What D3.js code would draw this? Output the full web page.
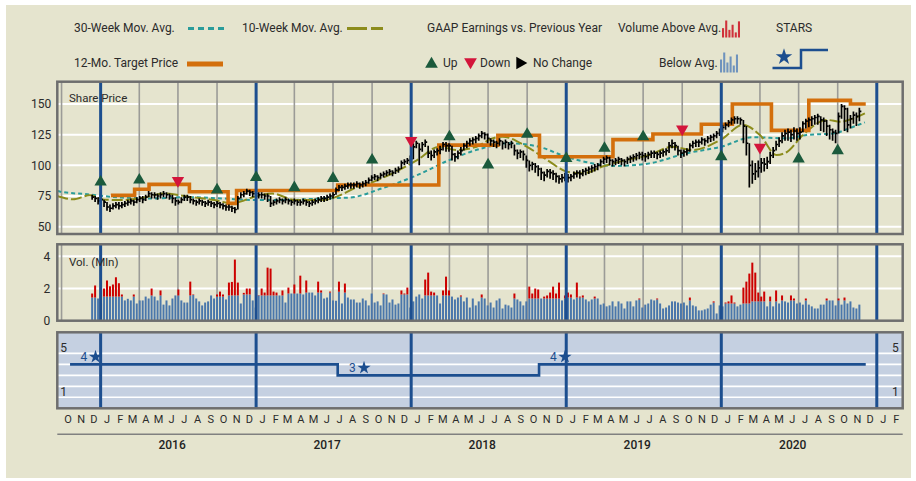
<!DOCTYPE html>
<html><head><meta charset="utf-8">
<script src="https://cdn.jsdelivr.net/npm/d3@7"></script>
<style>
body{margin:0;background:#fff;}
text{font-family:Roboto,"DejaVu Sans",sans-serif;}
</style></head>
<body><svg id="c" width="916" height="481"></svg>
<script>
// ---------------- DATA ----------------
const weekStart = "2015-12-12";
const priceClose = [
74,73,71,72,70,66,65,67,68,67,
68,69,70,71,70,72,73,72,74,77,
76,76,75,76,77,76,75,73,71,70,
72,74,74,72,71,70,71,70,69,70,
69,68,69,68,67,66,66,65,64,73,
76,77,79,78,77,77,76,76,75,75,
69,70,71,72,71,72,71,70,71,70,
70,71,70,69,70,71,72,73,73,74,
75,76,80,82,82,83,84,84,84,85,
84,85,86,88,90,91,90,92,93,94,
95,94,96,97,102,103,104,105,115,118,
113,117,119,110,108,111,112,113,117,116,
116,109,107,110,112,116,118,120,121,122,
124,126,125,122,120,119,118,120,118,119,
117,118,112,110,111,109,104,100,101,99,
97,94,92,95,94,93,91,89,90,91,
90,91,93,94,93,95,96,97,98,99,
100,103,105,106,104,103,104,105,104,103,
105,106,107,108,109,108,107,109,110,110,
109,110,111,112,116,118,116,112,110,111,
112,116,118,119,119,121,120,122,123,124,
126,128,131,133,135,137,138,138,137,132,
118,100,93,95,98,102,101,103,108,112,
117,120,124,126,127,125,128,126,127,134,
136,137,138,139,140,137,136,132,129,127,
126,140,148,146,133,138,141,140,144];
const priceHigh = [
76,75,74,74,72,70,68,69,70,70,
70,71,72,73,72,74,75,75,76,79,
78,78,77,78,79,78,77,76,74,72,
74,76,76,75,73,72,73,72,71,72,
71,70,71,70,69,68,68,67,66,75,
78,79,81,80,79,79,78,78,77,77,
75,72,73,74,73,74,73,72,73,72,
72,73,72,71,72,73,74,75,75,76,
77,78,82,84,84,85,86,86,86,87,
86,87,88,90,92,93,92,94,95,96,
97,96,98,99,104,105,106,108,118,120,
118,119,121,116,112,113,114,116,119,119,
118,116,110,112,115,118,120,122,123,124,
126,128,127,126,122,121,120,122,120,121,
119,120,117,113,113,112,108,104,103,102,
100,98,95,97,97,96,94,92,93,94,
93,93,95,96,96,97,98,99,100,101,
102,105,107,108,107,105,106,107,106,105,
107,108,109,110,111,111,110,111,112,112,
111,112,113,114,119,121,119,116,113,113,
114,118,120,121,121,123,122,124,125,126,
128,130,133,135,137,139,140,140,139,137,
132,118,104,102,104,106,106,107,111,115,
120,123,127,129,130,129,131,130,131,136,
138,139,140,141,142,140,139,137,133,130,
129,143,150,149,147,141,144,143,147];
const priceLow = [
72,70,68,69,66,63,62,64,65,64,
65,66,67,68,67,69,70,69,71,74,
73,73,72,73,74,73,72,69,67,68,
69,71,71,69,68,67,68,67,66,67,
66,65,66,65,64,63,63,62,61,64,
73,74,76,75,74,74,73,73,72,70,
66,67,68,69,68,69,68,67,68,67,
67,68,67,66,67,68,69,70,70,71,
72,73,76,79,79,80,81,81,81,82,
81,82,83,85,87,88,87,89,90,91,
92,91,93,94,97,100,101,102,105,114,
100,111,115,106,104,106,108,109,112,111,
111,104,103,105,108,112,114,116,117,118,
120,122,121,118,116,115,114,116,113,114,
113,114,108,105,106,104,98,95,96,94,
91,88,87,90,89,88,86,85,86,87,
86,87,89,90,89,91,92,93,94,95,
96,99,101,102,100,99,100,101,100,99,
101,102,103,104,105,104,103,105,106,106,
105,106,107,108,110,114,112,108,106,107,
108,111,114,115,115,117,116,118,119,120,
122,124,127,129,131,133,134,134,133,118,
108,82,85,88,90,94,95,97,101,106,
112,115,118,120,120,119,121,120,121,127,
130,131,132,133,133,128,127,124,121,120,
118,126,138,128,127,130,134,132,136];
const volume = [
1.69,2.19,1.38,1.07,2.0,2.5,2.14,2.25,2.7,2.33,
1.63,1.26,1.36,1.26,1.63,1.07,1.26,1.26,1.5,1.38,
2.0,1.5,1.26,1.88,1.0,1.26,0.95,1.38,1.57,1.94,
1.26,1.13,1.13,2.43,1.63,1.38,1.2,0.95,1.13,1.2,
1.57,1.38,1.63,1.81,1.63,1.32,2.37,2.41,3.8,2.37,
1.07,1.73,2.0,2.0,1.26,0.82,1.59,2.0,1.75,3.3,
3.24,1.81,1.75,1.57,1.88,1.13,2.06,1.69,2.25,1.69,
2.8,1.63,2.5,1.75,1.75,1.57,2.43,1.88,1.38,1.44,
1.81,1.26,1.24,2.43,1.07,2.31,1.44,1.32,1.32,1.13,
1.13,1.38,1.26,0.95,1.69,1.13,1.2,0.95,1.69,1.63,
1.13,1.32,1.0,1.07,1.88,1.69,2.06,0.82,1.2,1.5,
1.63,1.38,2.56,2.99,1.81,1.75,1.57,1.07,1.88,2.74,
1.88,1.5,1.32,1.44,1.57,1.2,1.44,0.82,1.38,0.95,
1.2,1.63,
1.38,0.95,1.13,0.82,1.26,1.38,0.76,1.0,0.95,0.82,
1.69,1.32,1.2,0.95,1.2,2.12,1.69,2.0,1.94,1.38,
1.5,1.57,1.75,2.12,1.69,2.37,1.26,1.57,1.75,1.63,
1.32,2.37,1.5,1.57,1.32,1.2,1.32,1.5,1.38,1.0,
1.07,0.89,0.95,1.2,0.89,1.2,1.07,0.76,1.2,1.2,
0.89,1.26,1.38,0.82,1.0,1.07,1.32,1.26,1.38,1.07,
0.76,0.82,0.95,1.2,1.2,1.13,1.07,1.13,0.95,1.44,
0.95,0.89,0.64,0.64,0.7,0.76,1.0,1.2,0.45,0.95,
0.89,1.13,1.2,1.57,1.13,0.89,1.0,2.06,2.43,2.93,
3.61,2.99,1.75,1.5,1.81,0.89,1.5,0.89,1.88,1.07,
1.57,1.2,1.13,1.57,1.38,1.07,1.13,1.0,1.38,1.0,
0.89,0.76,0.76,1.0,1.0,1.38,1.26,1.26,0.95,1.38,
1.0,1.44,1.07,1.2,0.82,0.76,1.0];
// volume average level, valid from the given week index onward
const volAvgFrom  = [0,4,20,34,42,46,51,56,66,72,83,85,95,102,111,123,130,142,160,169,184,201,209,213,222,232];
const volAvgLevel = [1.44,1.5,1.57,1.6,1.5,1.57,1.63,1.57,1.69,1.75,1.8,1.75,1.65,1.63,1.57,1.5,1.44,1.38,1.44,1.38,1.32,1.26,1.13,1.07,1.2,1.26];

const ma30Dates = ["2015-09-21","2015-09-28","2015-12-01","2016-02-20","2016-05-06","2016-07-23","2016-10-12","2016-12-30","2017-03-15","2017-06-04","2017-08-09","2017-10-25","2018-01-15","2018-04-01","2018-06-18","2018-08-20","2018-10-30","2019-01-01","2019-02-26","2019-04-29","2019-07-16","2019-10-11","2020-01-01","2020-03-15","2020-06-04","2020-07-20","2020-09-20","2020-11-07","2020-12-04"];
const ma30Values = [79,78.5,76.4,73.7,73,74,73,71.7,71.7,73,73.7,81.3,92,104.3,114,118,115,107,102,99.5,101.6,109.8,115.2,122.9,122,124.7,126,131.5,135];
const ma10Dates = ["2015-09-21","2015-10-28","2015-12-06","2016-01-10","2016-02-20","2016-04-06","2016-05-30","2016-07-23","2016-09-25","2016-11-05","2016-12-30","2017-02-08","2017-04-03","2017-06-04","2017-07-27","2017-08-20","2017-09-25","2017-11-18","2018-01-15","2018-03-08","2018-04-17","2018-06-04","2018-07-11","2018-08-04","2018-09-30","2018-11-23","2019-01-03","2019-02-10","2019-03-27","2019-05-22","2019-07-16","2019-09-08","2019-10-25","2019-12-30","2020-02-21","2020-04-01","2020-05-10","2020-06-04","2020-07-11","2020-09-06","2020-10-07","2020-11-07","2020-12-04"];
const ma10Values = [75,72.3,75.5,72,71.7,73.4,77,74.5,71.7,69,74.5,77,71.7,71.7,77,81.3,85.3,93.5,104.3,115.2,112.5,115.2,122,123.4,115.2,103,94.8,93.5,99,104.3,108.4,115.2,112.5,120.7,132.9,124.7,108.4,111,124.7,137,135.6,138.3,142.4];

const targetDates = ["2016-01-25","2016-03-21","2016-04-24","2016-07-28","2016-10-27","2016-11-16","2017-07-12","2018-03-07","2018-07-24","2018-10-30","2019-04-21","2019-07-24","2019-11-15","2020-01-27","2020-04-28","2020-07-25","2020-10-31","2020-12-06"];
const targetValues = [75.5,80.5,84.5,78.5,69,79.5,84,116.5,124.5,107,121,125.5,133.5,150,128.5,153,150,150];

const epsDates = ["2016-01-01","2016-04-01","2016-07-01","2016-10-01","2017-01-01","2017-04-01","2017-07-01","2017-10-01","2018-01-01","2018-04-01","2018-07-01","2018-10-01","2019-01-01","2019-04-01","2019-07-01","2019-10-01","2020-01-01","2020-04-01","2020-07-01","2020-10-01"];
const epsLevel = [86.4,88,87.5,79.9,90.2,81.8,89.4,104.3,120.1,123.3,100.3,125.3,105.7,113.9,123.3,129.6,107,114.7,105.2,111.9];
const epsDir = ["up","up","down","up","up","up","up","up","down","up","up","up","up","up","up","down","up","down","up","up"];

const starsDates = ["2015-10-21","2017-07-12","2018-10-29","2020-12-06"];
const starsValues = [4,3,4,4];
const starMarkDates = ["2015-12-20","2017-09-12","2018-12-29"];
const starMarkValues = [4,3,4];

const priceTicks = [50,75,100,125,150];
const volTicks = [0,2,4];
const starTicks = [1,5];
const monthLetters = ["J","F","M","A","M","J","J","A","S","O","N","D"];
const years = [2016,2017,2018,2019,2020];
const legendRedBars = [0.55,1.0,0.45,0.75,0.3,0.95];
const legendBlueBars = [0.65,1.0,0.5,0.8,0.35,0.9];

// ---------------- STYLE ----------------
const BG="#e5e4ce", FRAME="#6e6e6e", YEARBLUE="#1c4e8f", QGRAY="#9b9b97",
      TEAL="#2a9c9a", OLIVE="#8c8c1c", ORANGE="#d36f0c", GREEN="#1b5a3c", RED="#d3153b",
      VBLUE="#4a77ab", VRED="#cc0000", STARBG="#c5d0e1", TXT="#2b2b2b";

const parse = d3.utcParse("%Y-%m-%d");
const svg = d3.select("#c");
svg.append("rect").attr("x",6).attr("y",5).attr("width",905).attr("height",473).attr("fill",BG);

const L=57.3, R=902.7;
const P={top:81.7,bottom:234}, V={top:244.3,bottom:320.7}, S={top:332.3,bottom:408.3};
const x = d3.scaleUtc().domain([parse("2015-09-21"), parse("2021-03-03")]).range([L,R]);
const yP = d3.scaleLinear().domain([44,168.2]).range([P.bottom,P.top]);
const yV = d3.scaleLinear().domain([0,4.75]).range([V.bottom,V.top]);
const yS = d3.scaleLinear().domain([0,6.92]).range([S.bottom,S.top]);
const fmt = d3.format("d");

const weeks = volume.map((_,i)=>d3.utcDay.offset(parse(weekStart), 7*i));
const quarters = d3.utcMonth.every(3).range(parse("2015-10-01"), parse("2021-03-01"));

function clip(id, pnl){
  svg.append("clipPath").attr("id",id).append("rect")
    .attr("x",L).attr("y",pnl.top).attr("width",R-L).attr("height",pnl.bottom-pnl.top);
}
clip("cp",P); clip("cv",V); clip("cs",S);

function hgrid(g, y, vals, w){
  g.selectAll(null).data(vals).enter().append("line")
    .attr("x1",L).attr("x2",R).attr("y1",d=>y(d)).attr("y2",d=>y(d))
    .attr("stroke","#fff").attr("stroke-width",w);
}
function vgrid(g, pnl){
  const qs = quarters.filter(d=>d.getUTCMonth()!==0);
  g.selectAll(null).data(qs).enter().append("line")
    .attr("x1",d=>x(d)).attr("x2",d=>x(d)).attr("y1",pnl.top).attr("y2",pnl.bottom)
    .attr("stroke",QGRAY).attr("stroke-width",1.6);
}
function yearLines(g, pnl){
  const ys = quarters.filter(d=>d.getUTCMonth()===0);
  g.selectAll(null).data(ys).enter().append("line")
    .attr("x1",d=>x(d)).attr("x2",d=>x(d)).attr("y1",pnl.top).attr("y2",pnl.bottom)
    .attr("stroke",YEARBLUE).attr("stroke-width",3);
}
function frame(pnl){
  svg.append("rect").attr("x",L).attr("y",pnl.top).attr("width",R-L).attr("height",pnl.bottom-pnl.top)
    .attr("fill","none").attr("stroke",FRAME).attr("stroke-width",2.5);
}
function styleTicks(g, extra){
  g.select(".domain").remove();
  const t = g.selectAll("text").attr("font-size",12).attr("fill",TXT).attr("font-family","Roboto");
  if(extra) extra(t);
}

// ---------- PRICE PANEL ----------
const gp = svg.append("g").attr("clip-path","url(#cp)");
hgrid(gp, yP, priceTicks, 2);
vgrid(gp, P);
const lineGen = d3.line().x(d=>x(d[0])).y(d=>yP(d[1])).curve(d3.curveMonotoneX);
gp.append("path").datum(ma30Dates.map((d,i)=>[parse(d),ma30Values[i]]))
  .attr("d",lineGen).attr("fill","none").attr("stroke",TEAL).attr("stroke-width",2).attr("stroke-dasharray","4,3");
gp.append("path").datum(ma10Dates.map((d,i)=>[parse(d),ma10Values[i]]))
  .attr("d",lineGen).attr("fill","none").attr("stroke",OLIVE).attr("stroke-width",2).attr("stroke-dasharray","11,3");
gp.append("path").datum(targetDates.map((d,i)=>[parse(d),targetValues[i]]))
  .attr("d",d3.line().x(d=>x(d[0])).y(d=>yP(d[1])).curve(d3.curveStepAfter))
  .attr("fill","none").attr("stroke",ORANGE).attr("stroke-width",3.6);
gp.append("g").selectAll("path").data(weeks).enter().append("path")
  .attr("d",(d,i)=>{const xx=x(d);return `M${xx},${yP(priceHigh[i])}V${yP(priceLow[i])}M${xx},${yP(priceClose[i])}H${xx+2}`;})
  .attr("stroke","#000").attr("stroke-width",1.7).attr("fill","none");
yearLines(gp, P);
const tri = d3.symbol().type(d3.symbolTriangle).size(66);
gp.selectAll(null).data(epsDates).enter().append("path")
  .attr("d",tri)
  .attr("transform",(d,i)=>`translate(${x(parse(d))},${yP(epsLevel[i])}) rotate(${epsDir[i]==="down"?180:0})`)
  .attr("fill",(d,i)=>epsDir[i]==="down"?RED:GREEN);
svg.append("text").attr("x",69).attr("y",97.5).attr("dominant-baseline","central")
  .attr("font-size",11.5).attr("fill",TXT).text("Share Price");
frame(P);
svg.append("g").attr("transform",`translate(${L},0)`)
  .call(d3.axisLeft(yP).tickValues(priceTicks).tickSize(0).tickPadding(6).tickFormat(fmt))
  .call(g=>styleTicks(g));

// ---------- VOLUME PANEL ----------
const gv = svg.append("g").attr("clip-path","url(#cv)");
hgrid(gv, yV, [2,4], 2);
vgrid(gv, V);
function avgAt(i){let lv=volAvgLevel[0];volAvgFrom.forEach((f,k)=>{if(i>=f)lv=volAvgLevel[k];});return lv;}
gv.selectAll(null).data(weeks).enter().append("rect")
  .attr("x",d=>x(d)-1).attr("width",2)
  .attr("y",(d,i)=>yV(Math.min(volume[i],avgAt(i))))
  .attr("height",(d,i)=>yV(0)-yV(Math.min(volume[i],avgAt(i))))
  .attr("fill",VBLUE);
gv.selectAll(null).data(weeks.map((d,i)=>[d,i]).filter(([d,i])=>volume[i]>avgAt(i))).enter().append("rect")
  .attr("x",d=>x(d[0])-1).attr("width",2)
  .attr("y",d=>yV(volume[d[1]]))
  .attr("height",d=>yV(avgAt(d[1]))-yV(volume[d[1]]))
  .attr("fill",VRED);
yearLines(gv, V);
svg.append("text").attr("x",69).attr("y",261.5).attr("dominant-baseline","central")
  .attr("font-size",11.5).attr("fill",TXT).text("Vol. (Mln)");
frame(V);
svg.append("g").attr("transform",`translate(${L},0)`)
  .call(d3.axisLeft(yV).tickValues(volTicks).tickSize(0).tickPadding(7).tickFormat(fmt))
  .call(g=>styleTicks(g));

// ---------- STARS PANEL ----------
svg.append("rect").attr("x",L).attr("y",S.top).attr("width",R-L).attr("height",S.bottom-S.top).attr("fill",STARBG);
const gs = svg.append("g").attr("clip-path","url(#cs)");
hgrid(gs, yS, [1,2,3,4,5], 1.6);
yearLines(gs, S);
gs.append("path").datum(starsDates.map((d,i)=>[parse(d),starsValues[i]]))
  .attr("d",d3.line().x(d=>x(d[0])).y(d=>yS(d[1])).curve(d3.curveStepAfter))
  .attr("fill","none").attr("stroke",YEARBLUE).attr("stroke-width",2.6);
const star = d3.symbol().type(d3.symbolStar).size(55);
gs.selectAll(null).data(starMarkDates).enter().append("path")
  .attr("d",star).attr("fill",YEARBLUE)
  .attr("transform",(d,i)=>`translate(${x(parse(d))},${yS(starMarkValues[i])-7.5})`);
gs.selectAll(null).data(starMarkDates).enter().append("text")
  .attr("x",d=>x(parse(d))-15).attr("y",(d,i)=>yS(starMarkValues[i])-7).attr("dominant-baseline","central")
  .attr("font-size",12).attr("fill",YEARBLUE).text((d,i)=>starMarkValues[i]);
frame(S);
svg.append("g").attr("transform",`translate(${L},0)`)
  .call(d3.axisRight(yS).tickValues(starTicks).tickSize(0).tickPadding(3).tickFormat(fmt))
  .call(g=>styleTicks(g, t=>t.attr("y",-5.5)));
svg.append("g").attr("transform",`translate(${R},0)`)
  .call(d3.axisLeft(yS).tickValues(starTicks).tickSize(0).tickPadding(4).tickFormat(fmt))
  .call(g=>styleTicks(g, t=>t.attr("y",-5.5)));

// ---------- TIME AXIS ----------
const months = d3.utcMonth.range(parse("2015-10-01"), parse("2021-03-01"));
const monthMid = months.map(d=>d3.utcDay.offset(d,14));
svg.append("g").attr("transform","translate(0,419)")
  .call(d3.axisBottom(x).tickValues(monthMid).tickSize(0).tickFormat(d=>monthLetters[d.getUTCMonth()]))
  .call(g=>styleTicks(g, t=>t.attr("y",0).attr("dy",null).attr("dominant-baseline","central").attr("font-size",11)));
svg.append("line").attr("x1",L).attr("x2",R).attr("y1",434.3).attr("y2",434.3).attr("stroke","#808080").attr("stroke-width",1.5);
svg.append("g").attr("transform","translate(0,445)")
  .call(d3.axisBottom(x).tickValues(years.map(yv=>new Date(Date.UTC(yv,5,16)))).tickSize(0).tickFormat(d=>d.getUTCFullYear()))
  .call(g=>styleTicks(g, t=>t.attr("y",0).attr("dy",null).attr("dominant-baseline","central").attr("font-weight",500).attr("fill","#222")));

// ---------- LEGEND ----------
const lg = svg.append("g").attr("font-size",12).attr("fill",TXT);
function ltext(t,xx,yy){lg.append("text").attr("x",xx).attr("y",yy).attr("dominant-baseline","central").text(t);}
ltext("30-Week Mov. Avg.",74,28); ltext("10-Week Mov. Avg.",242,28);
ltext("GAAP Earnings vs. Previous Year",427,28); ltext("Volume Above Avg.",618,28); ltext("STARS",776,28);
ltext("12-Mo. Target Price",74,63); ltext("Up",443,63); ltext("Down",480,63); ltext("No Change",533,63);
ltext("Below Avg.",659,63);
lg.append("line").attr("x1",188).attr("x2",224).attr("y1",28.5).attr("y2",28.5).attr("stroke",TEAL).attr("stroke-width",3).attr("stroke-dasharray","6,4");
lg.append("line").attr("x1",347).attr("x2",383).attr("y1",28.5).attr("y2",28.5).attr("stroke",OLIVE).attr("stroke-width",3).attr("stroke-dasharray","20,4");
lg.append("line").attr("x1",187).attr("x2",223).attr("y1",64).attr("y2",64).attr("stroke",ORANGE).attr("stroke-width",5);
const tri2 = d3.symbol().type(d3.symbolTriangle).size(70);
lg.append("path").attr("d",tri2).attr("transform","translate(431.5,64)").attr("fill",GREEN);
lg.append("path").attr("d",tri2).attr("transform","translate(470.5,62) rotate(180)").attr("fill",RED);
lg.append("path").attr("d",tri2).attr("transform","translate(520,63) rotate(90)").attr("fill","#000");
const bx = d3.scaleBand().domain(d3.range(6)).range([722,740]).paddingInner(0.35);
lg.selectAll(null).data(legendRedBars).enter().append("rect")
  .attr("x",(d,i)=>bx(i)).attr("width",bx.bandwidth()).attr("y",d=>37.5-d*17).attr("height",d=>d*17).attr("fill","#d0303a");
const bx2 = d3.scaleBand().domain(d3.range(6)).range([720,738]).paddingInner(0.35);
lg.selectAll(null).data(legendBlueBars).enter().append("rect")
  .attr("x",(d,i)=>bx2(i)).attr("width",bx2.bandwidth()).attr("y",d=>72.5-d*20).attr("height",d=>d*20).attr("fill","#6f93bd");
lg.append("path").attr("d",d3.symbol().type(d3.symbolStar).size(85)).attr("transform","translate(784,57)").attr("fill",YEARBLUE);
lg.append("path").attr("d",d3.line()([[772.5,68],[801,68],[801,50],[828,50]])).attr("fill","none").attr("stroke",YEARBLUE).attr("stroke-width",2.5);
</script></body></html>
